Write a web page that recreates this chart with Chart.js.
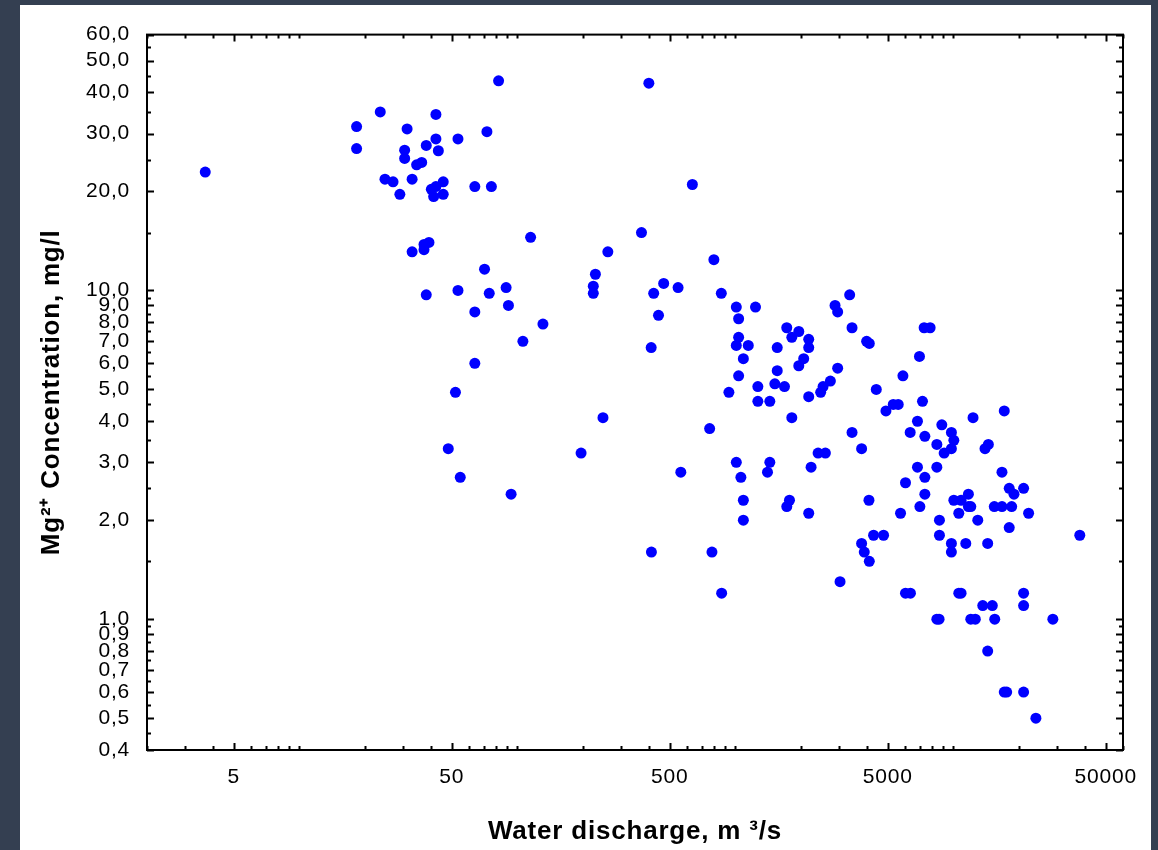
<!DOCTYPE html>
<html>
  <head>
    <meta charset="utf-8">
    <title>Mg2+ vs water discharge</title>
  </head>
  <style media="screen">
    body {
      margin: 0;
      background: #343f51;
    }
    #panel {
      position: absolute;
      left: 20px;
      top: 5px;
      width: 1131px;
      height: 845px;
      background: #fff;
    }
  </style>
  <body>
    <div id="panel"><canvas id="grap"></canvas></div>
    <script src="https://cdn.jsdelivr.net/npm/chart.js@4/dist/chart.umd.min.js"></script>
    <script type="text/javascript">
      // water discharge, m3/s
      let discharge = [
        3.7, 82, 23.5, 18.3, 18.3, 31.2, 42.3, 42.3, 53.4, 72.5,
        38.2, 43.4, 30.4, 30.4, 34.5, 36.4, 24.7, 26.9, 32.9, 28.9,
        40.3, 42.3, 45.7, 41.3, 45.7, 63.8, 76, 115, 39.3, 37.3,
        37.3, 32.9, 70.7, 38.2, 53.4, 74.3, 88.8, 91, 63.8, 131,
        106, 63.8, 52, 48.2, 54.7, 93.6, 401, 635, 371, 260,
        228, 223, 223, 797, 469, 422, 546, 862, 444, 411,
        1010, 1237, 1035, 1035, 1010, 1146, 1088, 1035, 1268, 934,
        1556, 1721, 1815, 1954, 2170, 2170, 2058, 1954, 1556, 1517,
        1680, 2946, 2728, 2525, 2866, 2946, 3344, 3429, 4000, 4115,
        1268, 1439, 2170, 2462, 247, 196, 762, 1815, 3429, 3794,
        2396, 2588, 2225, 1010, 1060, 1439, 1404, 562, 1088, 1088,
        1771, 1721, 2170, 412, 781, 865, 3021, 4100, 7345, 7823,
        6990, 5870, 4430, 5300, 5585, 4906, 7217, 6844, 6338, 7400,
        8851, 9794, 10050, 8398, 9794, 9072, 12310, 17120, 13970, 14470,
        6844, 8398, 7400, 6031, 16710, 7400, 7021, 5723, 10050, 10850,
        11720, 11720, 12020, 10590, 8632, 12940, 8632, 4305, 4784, 3794,
        3902, 4115, 9794, 9794, 11400, 14370, 15410, 16710, 18510, 18040,
        18970, 21000, 22140, 18040, 38010, 6031, 6355, 10590, 10850, 21000,
        13640, 15090, 21000, 8398, 8600, 12020, 12610, 15480, 28600, 14370,
        17120, 17560, 21000, 23910
      ];

      // Mg2+ concentration, mg/l
      let magnesium = [
        22.9, 43.4, 34.9, 31.5, 27.0, 31.0, 34.3, 28.9, 28.9, 30.4,
        27.6, 26.6, 26.7, 25.2, 24.1, 24.5, 21.8, 21.4, 21.8, 19.6,
        20.3, 20.7, 21.4, 19.3, 19.6, 20.7, 20.7, 14.5, 14.0, 13.8,
        13.3, 13.1, 11.6, 9.7, 10.0, 9.8, 10.2, 9.0, 8.6, 7.9,
        7.0, 6.0, 4.9, 3.3, 2.7, 2.4, 42.7, 21.0, 15.0, 13.1,
        11.2, 10.3, 9.8, 12.4, 10.5, 9.8, 10.2, 9.8, 8.4, 6.7,
        8.9, 8.9, 8.2, 7.2, 6.8, 6.8, 6.2, 5.5, 5.1, 4.9,
        6.7, 7.7, 7.2, 7.5, 7.1, 6.7, 6.2, 5.9, 5.7, 5.2,
        5.1, 5.8, 5.3, 5.1, 9.0, 8.6, 9.7, 7.7, 7.0, 6.9,
        4.6, 4.6, 4.75, 4.9, 4.1, 3.2, 3.8, 4.1, 3.7, 3.3,
        3.2, 3.2, 2.9, 3.0, 2.7, 3.0, 2.8, 2.8, 2.3, 2.0,
        2.3, 2.2, 2.1, 1.6, 1.6, 1.2, 1.3, 2.3, 7.7, 7.7,
        6.3, 5.5, 5.0, 4.5, 4.5, 4.3, 4.6, 4.0, 3.7, 3.6,
        3.9, 3.7, 3.5, 3.4, 3.3, 3.2, 4.1, 4.3, 3.3, 3.4,
        2.9, 2.9, 2.7, 2.6, 2.8, 2.4, 2.2, 2.1, 2.3, 2.3,
        2.4, 2.2, 2.2, 2.1, 2.0, 2.0, 1.8, 1.8, 1.8, 1.7,
        1.6, 1.5, 1.7, 1.6, 1.7, 1.7, 2.2, 2.2, 2.2, 2.5,
        2.4, 2.5, 2.1, 1.9, 1.8, 1.2, 1.2, 1.2, 1.2, 1.2,
        1.1, 1.1, 1.1, 1.0, 1.0, 1.0, 1.0, 1.0, 1.0, 0.8,
        0.6, 0.6, 0.6, 0.5
      ];

      let xTicks = [5, 50, 500, 5000, 50000];
      let yTicks = [0.4, 0.5, 0.6, 0.7, 0.8, 0.9, 1, 2, 3, 4, 5, 6, 7, 8, 9, 10, 20, 30, 40, 50, 60];

      // minor tick positions (only decoration, drawn inward like the original)
      let xMinor = [];
      for (let d = 1; d <= 10000; d *= 10) {
        [2, 3, 4, 6, 7, 8, 9, 10].forEach(m => { if (m * d <= 60000) xMinor.push(m * d); });
      }
      let yMinor = [0.45, 0.55, 0.65, 0.75, 0.85, 0.95, 1.5, 2.5, 3.5, 4.5, 5.5, 6.5, 7.5, 8.5, 9.5, 15, 25, 35, 45, 55];

      let points = discharge.map((q, i) => ({x: q, y: magnesium[i]}));

      let tickFont = {family: "'Liberation Sans', Arial, sans-serif", size: 21};
      let titleFont = {family: "'Liberation Sans', Arial, sans-serif", size: 26, weight: 'bold'};

      // the original text is a little wider than plain Arial
      let spacing = {
        id: 'spacing',
        beforeDraw(chart) { chart.ctx.letterSpacing = '0.8px'; },
        afterDraw(chart) { chart.ctx.letterSpacing = '0px'; }
      };

      let frame = {
        id: 'frame',
        afterDraw(chart) {
          let ctx = chart.ctx;
          let a = chart.chartArea;
          let sx = chart.scales.x, sy = chart.scales.y;
          ctx.save();
          ctx.strokeStyle = '#000';
          ctx.lineWidth = 2;
          ctx.strokeRect(a.left, a.top, a.right - a.left, a.bottom - a.top);
          ctx.beginPath();
          let tx = (v, len) => {
            let p = Math.round(sx.getPixelForValue(v)) + 0.5;
            ctx.moveTo(p, a.bottom); ctx.lineTo(p, a.bottom - len);
            ctx.moveTo(p, a.top); ctx.lineTo(p, a.top + len);
          };
          let ty = (v, len) => {
            let p = Math.round(sy.getPixelForValue(v)) + 0.5;
            ctx.moveTo(a.left, p); ctx.lineTo(a.left + len, p);
            ctx.moveTo(a.right, p); ctx.lineTo(a.right - len, p);
          };
          xTicks.forEach(v => tx(v, 7));
          xMinor.forEach(v => tx(v, 4));
          yTicks.forEach(v => ty(v, 7));
          yMinor.forEach(v => ty(v, 4));
          ctx.stroke();
          ctx.restore();
        }
      };

      var grafico = new Chart(document.querySelector("#grap"), {
        type: 'scatter',
        data: {
          datasets: [{
            data: points,
            backgroundColor: '#0000ff',
            borderWidth: 0,
            pointRadius: 5.5,
            pointHoverRadius: 5.5
          }]
        },
        plugins: [spacing, frame],
        options: {
          responsive: true,
          maintainAspectRatio: false,
          animation: false,
          layout: { padding: {top: 27, right: 28, left: 0, bottom: 0} },
          plugins: {
            legend: { display: false },
            tooltip: { enabled: false }
          },
          scales: {
            x: {
              type: 'logarithmic',
              min: 2,
              max: 60000,
              grid: { display: false, drawTicks: false },
              border: { display: false },
              afterBuildTicks: s => { s.ticks = xTicks.map(v => ({value: v})); },
              afterFit: s => { s.height = 100; },
              ticks: {
                color: '#000',
                font: tickFont,
                padding: 15,
                autoSkip: false,
                maxRotation: 0,
                callback: v => String(v)
              },
              title: {
                display: true,
                text: 'Water discharge, m ³/s',
                color: '#000',
                font: titleFont,
                padding: {top: 0, bottom: 3}
              }
            },
            y: {
              type: 'logarithmic',
              min: 0.4,
              max: 60,
              grid: { display: false, drawTicks: false },
              border: { display: false },
              afterBuildTicks: s => { s.ticks = yTicks.map(v => ({value: v})); },
              afterFit: s => { s.width = 127; },
              ticks: {
                color: '#000',
                font: tickFont,
                padding: 17,
                autoSkip: false,
                callback: v => v.toFixed(1).replace('.', ',')
              },
              title: {
                display: true,
                text: 'Mg²⁺ Concentration, mg/l',
                color: '#000',
                font: titleFont,
                padding: {top: 16, bottom: 0}
              }
            }
          }
        }
      });
    </script>
  </body>
</html>
